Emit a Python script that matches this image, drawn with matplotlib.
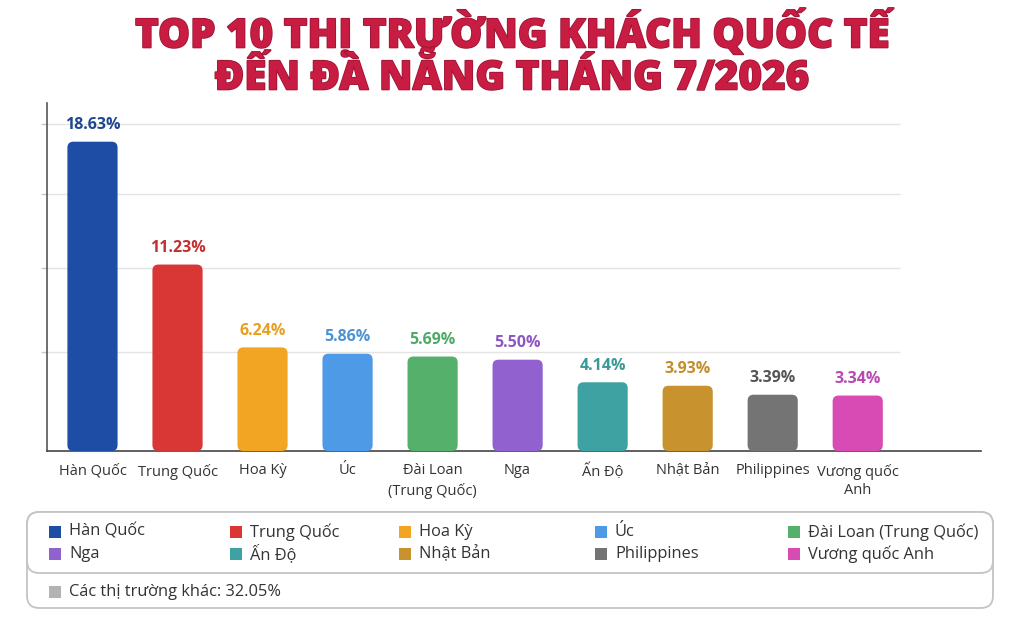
import matplotlib
matplotlib.use("Agg")
import matplotlib.pyplot as plt
from matplotlib.patches import FancyBboxPatch, Rectangle
import matplotlib.patheffects as pe

categories = ["Hàn Quốc", "Trung Quốc", "Hoa Kỳ", "Úc", "Đài Loan\n(Trung Quốc)",
              "Nga", "Ấn Độ", "Nhật Bản", "Philippines", "Vương quốc\nAnh"]
legend_names = ["Hàn Quốc", "Trung Quốc", "Hoa Kỳ", "Úc", "Đài Loan (Trung Quốc)",
                "Nga", "Ấn Độ", "Nhật Bản", "Philippines", "Vương quốc Anh"]
values = [18.63, 11.23, 6.24, 5.86, 5.69, 5.50, 4.14, 3.93, 3.39, 3.34]
other_label = "Các thị trường khác"
other_value = 32.05

bar_colors = ["#1E4DA6", "#D93636", "#F2A522", "#4E9AE6", "#55B06C",
              "#9161CF", "#3FA2A2", "#C8922E", "#747474", "#D84AB4"]
label_colors = ["#1D4790", "#C4302F", "#E8A01E", "#4B92D6", "#4DA966",
                "#8C55C6", "#3A9898", "#C28D2C", "#555555", "#BA48B2"]
other_color = "#B3B3B3"

plt.rcParams['font.family'] = ['Open Sans', 'DejaVu Sans']

W, H = 1024, 617
fig = plt.figure(figsize=(W / 100, H / 100), dpi=100)
fig.patch.set_facecolor("white")

def fx(px):
    return px / W

def fy(py):
    return 1 - py / H

ax = fig.add_axes([fx(47), fy(451), fx(981) - fx(47), fy(103) - fy(451)])
x = list(range(len(values)))
bars = ax.bar(x, values, width=0.59, color=bar_colors, zorder=3)
ax.set_xlim(-0.535, 10.45)
ax.set_ylim(0, 20.96)

# rounded bars
for b, c in zip(bars, bar_colors):
    rp = FancyBboxPatch((b.get_x(), 0), b.get_width(), b.get_height(),
                        boxstyle="round,pad=0,rounding_size=0.07",
                        mutation_aspect=5.1, facecolor=c, edgecolor="none", zorder=3)
    ax.add_patch(rp)
    b.set_visible(False)

# grid lines
grid_levels = [5.95, 11.0, 15.5, 19.7]
ax.set_yticks(grid_levels)
ax.set_yticklabels([])
ax.tick_params(axis='y', length=4, color="#C8C8C8", width=1)
ax.hlines(grid_levels, -0.535, 9.5, colors="#E4E4E4", linewidth=1, zorder=1)

ax.set_xticks(x)
ax.set_xticklabels(categories, fontsize=10.5, color="#333333", linespacing=1.35)
ax.tick_params(axis='x', length=0, pad=9)

for s in ["top", "right"]:
    ax.spines[s].set_visible(False)
ax.spines["left"].set_color("#555555")
ax.spines["left"].set_linewidth(1.2)
ax.spines["bottom"].set_color("#444444")
ax.spines["bottom"].set_linewidth(1.2)

for xi, v, lc in zip(x, values, label_colors):
    ax.annotate(f"{v:.2f}%", (xi, v), xytext=(0, 6), textcoords="offset points",
                ha="center", va="bottom", fontsize=11.5, fontweight="bold", color=lc,
                zorder=4)

# title
title_fx = [pe.Stroke(linewidth=1.2, foreground="#9A1434"), pe.Normal()]
fig.text(0.5, fy(32), "TOP 10 THỊ TRƯỜNG KHÁCH QUỐC TẾ", ha="center", va="center",
         fontsize=29, fontweight="heavy", color="#C81C43", path_effects=title_fx)
fig.text(0.5, fy(78), "ĐẾN ĐÀ NẴNG THÁNG 7/2026", ha="center", va="center",
         fontsize=29, fontweight="heavy", color="#C81C43", path_effects=title_fx)

# legend box
outer = FancyBboxPatch((fx(27), fy(608)), fx(993) - fx(27), fy(512) - fy(608),
                       boxstyle="round,pad=0,rounding_size=0.012",
                       mutation_aspect=W / H,
                       transform=fig.transFigure, facecolor="white",
                       edgecolor="#C4C4C4", linewidth=1.3)
inner = FancyBboxPatch((fx(27), fy(573)), fx(993) - fx(27), fy(512) - fy(573),
                       boxstyle="round,pad=0,rounding_size=0.012",
                       mutation_aspect=W / H,
                       transform=fig.transFigure, facecolor="white",
                       edgecolor="#C4C4C4", linewidth=1.3)
fig.patches.extend([outer, inner])

col_sq = [49, 230, 399, 595, 788]
row_y = [532, 554]
for i, (name, c) in enumerate(zip(legend_names, bar_colors)):
    r, col = divmod(i, 5)
    sx = col_sq[col]
    cy = row_y[r]
    fig.patches.append(Rectangle((fx(sx), fy(cy + 6)), fx(12), 12 / H,
                                 transform=fig.transFigure, facecolor=c, edgecolor="none"))
    fig.text(fx(sx + 20), fy(cy), name, ha="left", va="center", fontsize=11.8,
             color="#333333")

fig.patches.append(Rectangle((fx(49), fy(592 + 6)), fx(12), 12 / H,
                             transform=fig.transFigure, facecolor=other_color,
                             edgecolor="none"))
fig.text(fx(69), fy(592), f"{other_label}: {other_value:.2f}%", ha="left", va="center",
         fontsize=11.8, color="#333333")

fig.savefig("out.png", dpi=100, facecolor="white")
